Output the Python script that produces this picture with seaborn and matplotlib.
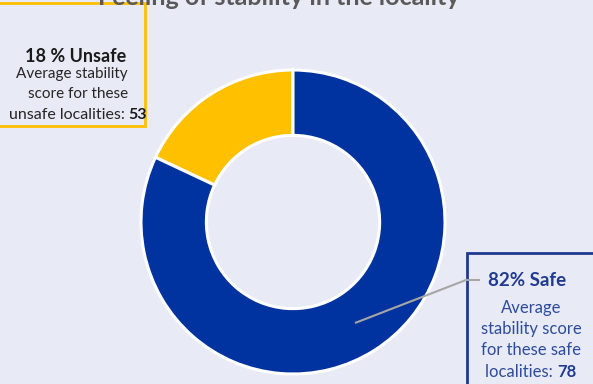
import matplotlib
matplotlib.use("Agg")
import matplotlib.pyplot as plt
import seaborn as sns
from matplotlib.patches import Rectangle

# Data
categories = ["Unsafe", "Safe"]
shares = [18, 82]
scores = [53, 78]
title = "Feeling of stability in the locality"

BG = "#E8EAF5"
BLUE = "#00339F"
YELLOW = "#FFC000"
DARKBLUE = "#1F3A8F"
TEXTBLUE = "#2E4C9E"

sns.set_theme(style="white")
plt.rcParams["font.family"] = ["Lato", "DejaVu Sans"]

W, H = 593, 384
fig = plt.figure(figsize=(W / 100, H / 100), dpi=100, facecolor=BG)
ax = fig.add_axes([0, 0, 1, 1])
ax.set_facecolor(BG)

cx, cy, R = 293, H - 222, 152
ax.pie(shares, colors=[YELLOW, BLUE], startangle=90, counterclock=True,
       center=(cx, cy), radius=R,
       wedgeprops=dict(width=R * 0.43, edgecolor="white", linewidth=2.2))
ax.set_xlim(0, W)
ax.set_ylim(0, H)
ax.set_aspect("equal")
ax.axis("off")

def Y(py):
    return H - py

# Title (clipped at top, as in the reference)
ax.text(279, Y(5), title, ha="center", va="baseline", fontsize=18,
        fontweight="bold", color="#595959", clip_on=False)

# Unsafe box
ax.add_patch(Rectangle((-3, Y(126)), 148, 123, fill=False,
                       edgecolor=YELLOW, linewidth=2))
# Safe box
ax.add_patch(Rectangle((467, Y(390)), 140, 137, fill=False,
                       edgecolor=DARKBLUE, linewidth=2))

fig.canvas.draw()
renderer = fig.canvas.get_renderer()

def mixed_line(x_center, py, normal, bold, color, bcolor, fs):
    t1 = ax.text(0, Y(py), normal, ha="left", va="center", fontsize=fs, color=color)
    t2 = ax.text(0, Y(py), bold, ha="left", va="center", fontsize=fs,
                 color=bcolor, fontweight="bold")
    w1 = t1.get_window_extent(renderer).width
    w2 = t2.get_window_extent(renderer).width
    x0 = x_center - (w1 + w2) / 2
    t1.set_x(x0)
    t2.set_x(x0 + w1)

# Unsafe text
ax.text(76, Y(57), f"{shares[0]} % {categories[0]}", ha="center", va="center",
        fontsize=13, fontweight="bold", color="#1a1a1a")
ax.text(72, Y(74), "Average stability", ha="center", va="center",
        fontsize=11, color="#262626")
ax.text(78, Y(94), "score for these", ha="center", va="center",
        fontsize=11, color="#262626")
mixed_line(78, 115, "unsafe localities: ", str(scores[0]), "#262626", "#1a1a1a", 11.5)

# Safe text
ax.text(527, Y(281), f"{shares[1]}% {categories[1]}", ha="center", va="center",
        fontsize=13.5, fontweight="bold", color=DARKBLUE)
ax.text(531, Y(308), "Average", ha="center", va="center", fontsize=12, color=TEXTBLUE)
ax.text(531, Y(329), "stability score", ha="center", va="center", fontsize=12, color=TEXTBLUE)
ax.text(531, Y(350), "for these safe", ha="center", va="center", fontsize=12, color=TEXTBLUE)
mixed_line(531, 372, "localities: ", str(scores[1]), TEXTBLUE, DARKBLUE, 12)

# Connector line
ax.plot([355, 466, 480], [Y(323), Y(280), Y(280)], color="#A6A6A6", linewidth=1.5,
        solid_capstyle="butt")

fig.savefig("out.png", dpi=100, facecolor=BG)
